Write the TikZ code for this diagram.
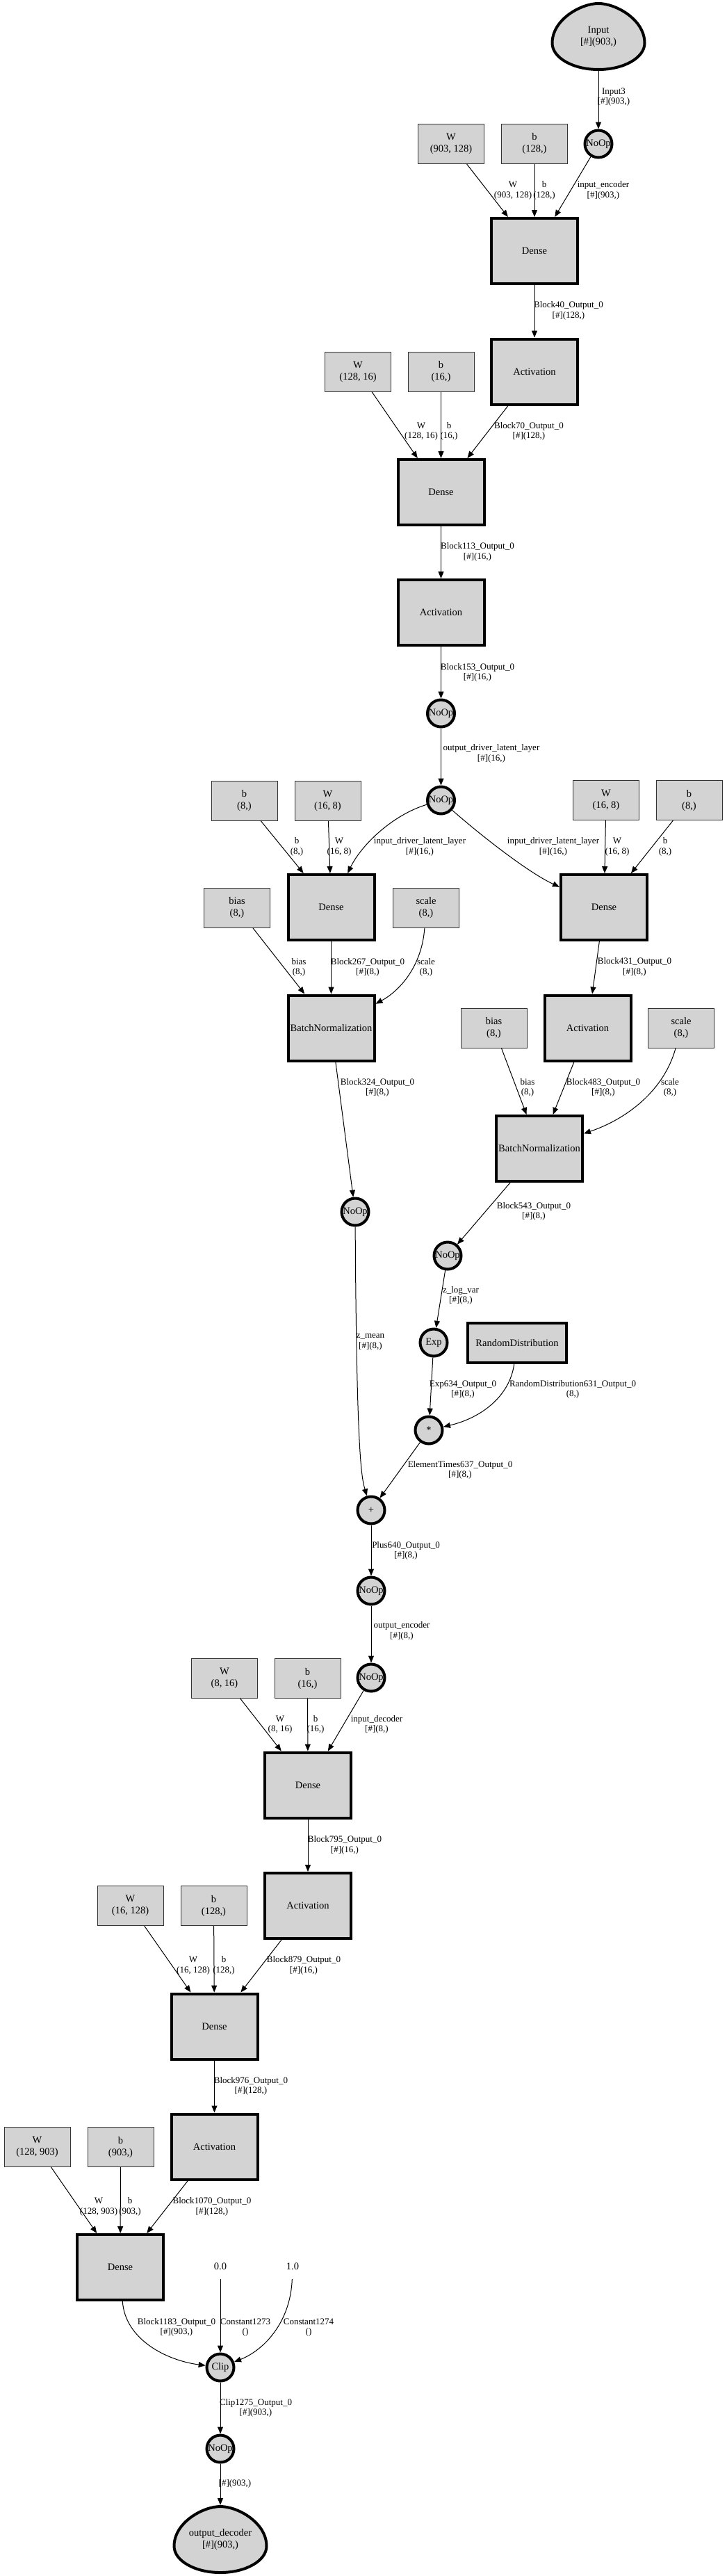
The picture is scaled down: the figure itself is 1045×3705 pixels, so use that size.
\documentclass[tikz,border=0pt]{standalone}
\usepackage{fontspec}
\setmainfont{Liberation Serif}
\usetikzlibrary{arrows.meta}
\definecolor{gfill}{HTML}{D3D3D3}
\newcommand\myNodeFont{\fontsize{14.5}{17}\selectfont}
\newcommand\myEdgeFont{\fontsize{13}{14.5}\selectfont}
\begin{document}
\begin{tikzpicture}[x=1pt,y=1pt,
  opbox/.style={draw=black, line width=4pt, fill=gfill, minimum width=124pt, minimum height=94pt, inner sep=0pt, outer sep=2pt, font=\myNodeFont, align=center},
  parbox/.style={draw=black!80, line width=1pt, fill=gfill, minimum width=95pt, minimum height=57pt, inner sep=0pt, outer sep=0.5pt, font=\myNodeFont, align=center},
  opcirc/.style={circle, draw=black, line width=4pt, fill=gfill, minimum size=39pt, inner sep=0pt, outer sep=2pt, font=\myNodeFont},
  eggnode/.style={minimum width=137pt, minimum height=99pt, inner sep=0pt, outer sep=0pt, font=\myNodeFont, align=center},
  eggline/.style={draw=black, line width=4pt, fill=gfill},
  constnode/.style={minimum width=30pt, minimum height=36pt, inner sep=0pt, outer sep=0pt, font=\myNodeFont},
  lbl/.style={font=\myEdgeFont, align=center, inner sep=0pt},
  edge/.style={draw=black, line width=1pt, -{Triangle[length=10pt,width=8pt]}}
]
\path[use as bounding box, fill=white] (0,0) rectangle (1045,-3705);

% egg shapes
\begin{scope}[shift={(861,-62)}]
\draw[eggline] (-66.5,0) .. controls (-66.5,34) and (-25,57) .. (0,57) .. controls (25,57) and (66.5,34) .. (66.5,0) .. controls (66.5,-21) and (36.7,-38) .. (0,-38) .. controls (-36.7,-38) and (-66.5,-21) .. (-66.5,0) -- cycle;
\end{scope}
\begin{scope}[shift={(317,-3662)}]
\draw[eggline] (-66.5,0) .. controls (-66.5,34) and (-25,57) .. (0,57) .. controls (25,57) and (66.5,34) .. (66.5,0) .. controls (66.5,-21) and (36.7,-38) .. (0,-38) .. controls (-36.7,-38) and (-66.5,-21) .. (-66.5,0) -- cycle;
\end{scope}
\node[eggnode] (in) at (861,-52.5) {Input\\{}[\#](903,)};
\node[eggnode] (out) at (317,-3652.5) {output\_decoder\\{}[\#](903,)};

% parameter boxes
\node[parbox] (W1) at (649,-207) {W\\(903, 128)};
\node[parbox] (b1) at (769,-207) {b\\(128,)};
\node[parbox] (W2) at (515,-534.5) {W\\(128, 16)};
\node[parbox] (b2) at (634.5,-534.5) {b\\(16,)};
\node[parbox] (b3) at (351.5,-1151.5) {b\\(8,)};
\node[parbox] (W3) at (471.5,-1151.5) {W\\(16, 8)};
\node[parbox] (W4) at (872,-1151) {W\\(16, 8)};
\node[parbox] (b4) at (991.5,-1151) {b\\(8,)};
\node[parbox] (bias1) at (341,-1305.5) {bias\\(8,)};
\node[parbox] (scale1) at (613,-1305.5) {scale\\(8,)};
\node[parbox] (bias2) at (710.5,-1478.5) {bias\\(8,)};
\node[parbox] (scale2) at (980,-1478.5) {scale\\(8,)};
\node[parbox] (W5) at (323,-2414) {W\\(8, 16)};
\node[parbox] (b5) at (442.5,-2414) {b\\(16,)};
\node[parbox] (W6) at (187.5,-2741) {W\\(16, 128)};
\node[parbox] (b6) at (307.5,-2741) {b\\(128,)};
\node[parbox] (W7) at (53.5,-3088) {W\\(128, 903)};
\node[parbox] (b7) at (173.5,-3088) {b\\(903,)};

% operation boxes
\node[opbox] (dense1) at (769,-361) {Dense};
\node[opbox] (act1) at (769,-534.5) {Activation};
\node[opbox] (dense2) at (634.5,-708) {Dense};
\node[opbox] (act2) at (634.5,-881) {Activation};
\node[opbox] (dense3) at (476.5,-1305) {Dense};
\node[opbox] (bn1) at (476.5,-1478.5) {BatchNormalization};
\node[opbox] (dense4) at (869,-1305) {Dense};
\node[opbox] (act3) at (845.5,-1478.5) {Activation};
\node[opbox] (bn2) at (776,-1652) {BatchNormalization};
\node[opbox, minimum width=142pt, minimum height=57pt] (rand) at (744,-1931.5) {RandomDistribution};
\node[opbox] (dense5) at (443,-2567.5) {Dense};
\node[opbox] (act4) at (443,-2741) {Activation};
\node[opbox] (dense6) at (308.5,-2914.5) {Dense};
\node[opbox] (act5) at (308.5,-3087.5) {Activation};
\node[opbox] (dense7) at (173,-3261) {Dense};

% circles
\node[opcirc] (noop1) at (861,-207) {NoOp};
\node[opcirc] (noop2) at (634.5,-1026) {NoOp};
\node[opcirc] (noop3) at (634.5,-1151) {NoOp};
\node[opcirc] (noop4) at (511,-1743) {NoOp};
\node[opcirc] (noop5) at (644,-1806) {NoOp};
\node[opcirc] (exp) at (624,-1931) {Exp};
\node[opcirc] (times) at (617,-2057) {*};
\node[opcirc] (plus) at (534,-2172) {+};
\node[opcirc] (noop6) at (534,-2288) {NoOp};
\node[opcirc] (noop7) at (534,-2413) {NoOp};
\node[opcirc] (clip) at (317,-3405) {Clip};
\node[opcirc] (noop8) at (317,-3522) {NoOp};

% constants
\node[constnode] (c0) at (317,-3260) {0.0};
\node[constnode] (c1) at (421,-3260) {1.0};

% edges
\draw[edge] (in) -- (noop1);
\draw[edge] (W1) -- (dense1);
\draw[edge] (b1) -- (dense1);
\draw[edge] (noop1) -- (dense1);
\draw[edge] (dense1) -- (act1);
\draw[edge] (W2) -- (dense2);
\draw[edge] (b2) -- (dense2);
\draw[edge] (act1) -- (dense2);
\draw[edge] (dense2) -- (act2);
\draw[edge] (act2) -- (noop2);
\draw[edge] (noop2) -- (noop3);
\draw[edge] (b3) -- (dense3);
\draw[edge] (W3) -- (dense3);
\draw[edge] (noop3) .. controls (565,-1172) and (520,-1215) .. (dense3);
\draw[edge] (noop3) .. controls (690,-1200) and (760,-1255) .. (dense4);
\draw[edge] (W4) -- (dense4);
\draw[edge] (b4) -- (dense4);
\draw[edge] (bias1) -- (bn1);
\draw[edge] (dense3) -- (bn1);
\draw[edge] (scale1) .. controls (607,-1390) and (575,-1425) .. (bn1);
\draw[edge] (dense4) -- (act3);
\draw[edge] (bias2) -- (bn2);
\draw[edge] (act3) -- (bn2);
\draw[edge] (scale2) .. controls (955,-1570) and (900,-1610) .. (bn2);
\draw[edge] (bn1) -- (noop4);
\draw[edge] (bn2) -- (noop5);
\draw[edge] (noop5) -- (exp);
\draw[edge] (noop4) .. controls (513,-2090) and (520,-2125) .. (plus);
\draw[edge] (exp) -- (times);
\draw[edge] (rand) .. controls (733,-2010) and (690,-2040) .. (times);
\draw[edge] (times) -- (plus);
\draw[edge] (plus) -- (noop6);
\draw[edge] (noop6) -- (noop7);
\draw[edge] (W5) -- (dense5);
\draw[edge] (b5) -- (dense5);
\draw[edge] (noop7) -- (dense5);
\draw[edge] (dense5) -- (act4);
\draw[edge] (W6) -- (dense6);
\draw[edge] (b6) -- (dense6);
\draw[edge] (act4) -- (dense6);
\draw[edge] (dense6) -- (act5);
\draw[edge] (W7) -- (dense7);
\draw[edge] (b7) -- (dense7);
\draw[edge] (act5) -- (dense7);
\draw[edge] (dense7) .. controls (180,-3365) and (240,-3395) .. (clip);
\draw[edge] (c0) -- (clip);
\draw[edge] (c1) .. controls (418,-3340) and (380,-3380) .. (clip);
\draw[edge] (clip) -- (noop8);
\draw[edge] (noop8) -- (out);

% edge labels
\node[lbl] (l1) at (883,-139.5) {Input3\\{}[\#](903,)};
\node[lbl] (l2) at (738,-274) {W\\(903, 128)};
\node[lbl] (l3) at (783,-274) {b\\(128,)};
\node[lbl] (l4) at (868,-274) {input\_encoder\\{}[\#](903,)};
\node[lbl] (l5) at (818,-447) {Block40\_Output\_0\\{}[\#](128,)};
\node[lbl] (l6) at (606,-620.5) {W\\(128, 16)};
\node[lbl] (l7) at (646,-620.5) {b\\(16,)};
\node[lbl] (l8) at (761,-620.5) {Block70\_Output\_0\\{}[\#](128,)};
\node[lbl] (l9) at (687,-794) {Block113\_Output\_0\\{}[\#](16,)};
\node[lbl] (l10) at (687,-967.5) {Block153\_Output\_0\\{}[\#](16,)};
\node[lbl] (l11) at (707,-1084) {output\_driver\_latent\_layer\\{}[\#](16,)};
\node[lbl] (l12) at (427,-1218) {b\\(8,)};
\node[lbl] (l13) at (488,-1218) {W\\(16, 8)};
\node[lbl] (l14) at (604,-1218) {input\_driver\_latent\_layer\\{}[\#](16,)};
\node[lbl] (l15) at (796,-1218) {input\_driver\_latent\_layer\\{}[\#](16,)};
\node[lbl] (l16) at (888,-1218) {W\\(16, 8)};
\node[lbl] (l17) at (957,-1218) {b\\(8,)};
\node[lbl] (l18) at (430,-1391.5) {bias\\(8,)};
\node[lbl] (l19) at (529,-1391.5) {Block267\_Output\_0\\{}[\#](8,)};
\node[lbl] (l20) at (613,-1391.5) {scale\\(8,)};
\node[lbl] (l21) at (913,-1391) {Block431\_Output\_0\\{}[\#](8,)};
\node[lbl] (l22) at (759,-1564.5) {bias\\(8,)};
\node[lbl] (l23) at (868,-1564.5) {Block483\_Output\_0\\{}[\#](8,)};
\node[lbl] (l24) at (964,-1564.5) {scale\\(8,)};
\node[lbl] (l25) at (543,-1564.5) {Block324\_Output\_0\\{}[\#](8,)};
\node[lbl] (l26) at (768,-1742.5) {Block543\_Output\_0\\{}[\#](8,)};
\node[lbl] (l27) at (663,-1863.5) {z\_log\_var\\{}[\#](8,)};
\node[lbl] (l28) at (533,-1930.5) {z\_mean\\{}[\#](8,)};
\node[lbl] (l29) at (666,-1998.5) {Exp634\_Output\_0\\{}[\#](8,)};
\node[lbl] (l30) at (824,-1998.5) {RandomDistribution631\_Output\_0\\(8,)};
\node[lbl] (l31) at (662,-2114.5) {ElementTimes637\_Output\_0\\{}[\#](8,)};
\node[lbl] (l32) at (584,-2230.5) {Plus640\_Output\_0\\{}[\#](8,)};
\node[lbl] (l33) at (578,-2346) {output\_encoder\\{}[\#](8,)};
\node[lbl] (l34) at (403,-2480.5) {W\\(8, 16)};
\node[lbl] (l35) at (454,-2480.5) {b\\(16,)};
\node[lbl] (l36) at (542,-2480.5) {input\_decoder\\{}[\#](8,)};
\node[lbl] (l37) at (496,-2654) {Block795\_Output\_0\\{}[\#](16,)};
\node[lbl] (l38) at (278,-2827) {W\\(16, 128)};
\node[lbl] (l39) at (322,-2827) {b\\(128,)};
\node[lbl] (l40) at (437,-2827) {Block879\_Output\_0\\{}[\#](16,)};
\node[lbl] (l41) at (361,-3000.5) {Block976\_Output\_0\\{}[\#](128,)};
\node[lbl] (l42) at (142,-3174) {W\\(128, 903)};
\node[lbl] (l43) at (187,-3174) {b\\(903,)};
\node[lbl] (l44) at (305,-3174) {Block1070\_Output\_0\\{}[\#](128,)};
\node[lbl] (l45) at (254,-3347.5) {Block1183\_Output\_0\\{}[\#](903,)};
\node[lbl] (l46) at (353,-3347.5) {Constant1273\\()};
\node[lbl] (l47) at (444,-3347.5) {Constant1274\\()};
\node[lbl] (l48) at (368,-3463.5) {Clip1275\_Output\_0\\{}[\#](903,)};
\node[lbl] (l49) at (338,-3572) {[\#](903,)};
\end{tikzpicture}
\end{document}
